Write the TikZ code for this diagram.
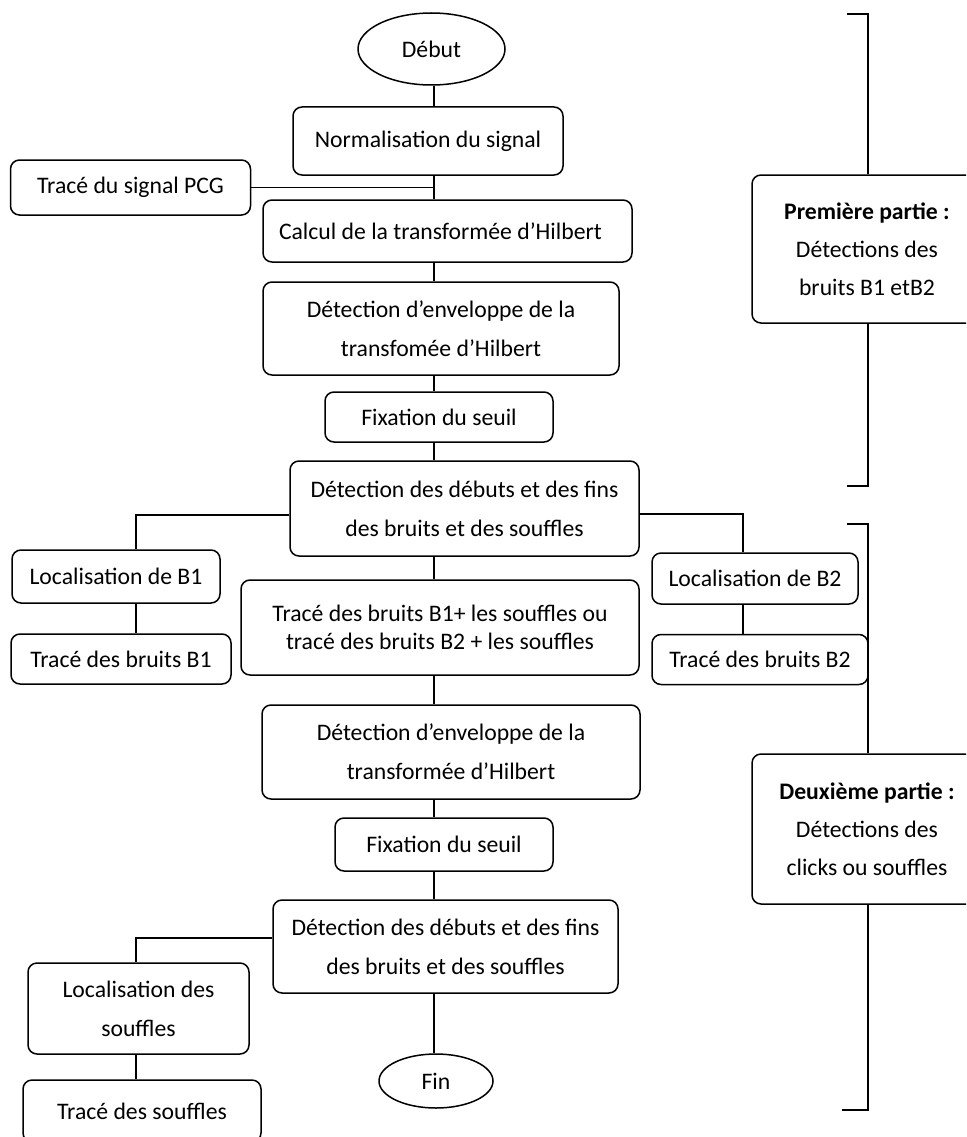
\documentclass[tikz,border=0pt]{standalone}
\usepackage{fontspec}
\setmainfont{Carlito}
\usetikzlibrary{shapes.geometric}
\begin{document}
\begin{tikzpicture}[x=1pt,y=-1pt,
  every node/.style={font=\fontsize{23.7}{39}\selectfont, text=black},
  box/.style={draw, line width=1.5pt, rounded corners=9pt, align=center, inner sep=0pt},
  oval/.style={draw, ellipse, line width=1.5pt, inner sep=0pt},
  conn/.style={line width=1.5pt}]
\useasboundingbox (0,0) rectangle (966,1137);
\clip (0,0) rectangle (966,1137);
\fill[white] (0,0) rectangle (966,1137);

% main column
\node[oval, minimum width=147, minimum height=72] (debut) at (431.5,49) {Début};
\node[box, minimum width=270, minimum height=68] (norm) at (428,141) {Normalisation du signal};
\node[box, minimum width=240, minimum height=55] (pcg) at (130.5,187.5) {Tracé du signal PCG};
\node[box, minimum width=369, minimum height=62, inner xsep=16] (calc) at (447.5,231) {\makebox[337pt][l]{Calcul de la transformée d’Hilbert}};
\node[box, minimum width=356, minimum height=93] (env1) at (441,328.5) {Détection d’enveloppe de la\\transfomée d’Hilbert};
\node[box, minimum width=228, minimum height=50] (fix1) at (439,417) {Fixation du seuil};
\node[box, minimum width=349, minimum height=95] (deb1) at (464.5,508.5) {Détection des débuts et des fins\\des bruits et des souffles};
\node[box, minimum width=208, minimum height=53] (locB1) at (116,576.5) {Localisation de B1};
\node[box, minimum width=220, minimum height=50] (trB1) at (121,659) {Tracé des bruits B1};
\node[box, minimum width=398, minimum height=95, font=\fontsize{23.7}{28}\selectfont] (trB12) at (440,627.5) {Tracé des bruits B1+ les souffles ou\\tracé des bruits B2 + les souffles};
\node[box, minimum width=206, minimum height=51] (locB2) at (755,578.5) {Localisation de B2};
\node[box, minimum width=216, minimum height=50] (trB2) at (760,659.5) {Tracé des bruits B2};
\node[box, minimum width=378, minimum height=94] (env2) at (451,752) {Détection d’enveloppe de la\\transformée d’Hilbert};
\node[box, minimum width=218, minimum height=53] (fix2) at (444,844.5) {Fixation du seuil};
\node[box, minimum width=345, minimum height=93] (deb2) at (445.5,946.5) {Détection des débuts et des fins\\des bruits et des souffles};
\node[box, minimum width=221, minimum height=91] (locS) at (138.5,1008.5) {Localisation des\\souffles};
\node[box, minimum width=238, minimum height=62] (trS) at (142,1111) {Tracé des souffles};
\node[oval, minimum width=114, minimum height=54] (fin) at (436,1081) {Fin};

% side parts
\node[box, minimum width=230, minimum height=148, font=\fontsize{23.7}{38}\selectfont] (p1) at (867,249) {\textbf{Première partie :}\\Détections des\\bruits B1 etB2};
\node[box, minimum width=230, minimum height=150, font=\fontsize{23.7}{38}\selectfont] (p2) at (867,829) {\textbf{Deuxième partie :}\\Détections des\\clicks ou souffles};

% connectors
\coordinate (tr) at (434,0);
\draw[conn] (debut.south -| tr) -- (norm.north -| tr);
\draw[conn] (norm.south -| tr) -- (calc.north -| tr);
\draw[conn] (pcg.east) -- (pcg.east -| tr);
\draw[conn] (calc.south -| tr) -- (env1.north -| tr);
\draw[conn] (env1.south -| tr) -- (fix1.north -| tr);
\draw[conn] (fix1.south -| tr) -- (deb1.north -| tr);
\draw[conn] (deb1.south -| tr) -- (trB12.north -| tr);
\draw[conn] (trB12.south -| tr) -- (env2.north -| tr);
\draw[conn] (env2.south -| tr) -- (fix2.north -| tr);
\draw[conn] (fix2.south -| tr) -- (deb2.north -| tr);
\draw[conn] (deb2.south -| tr) -- (fin.north -| tr);

\coordinate (bl1) at (136,515);
\coordinate (br1) at (743,514);
\coordinate (bl2) at (136,938);
\draw[conn] (deb1.west |- bl1) -- (bl1) -- (locB1.north -| bl1);
\draw[conn] (locB1.south -| bl1) -- (trB1.north -| bl1);
\draw[conn] (deb1.east |- br1) -- (br1) -- (locB2.north -| br1);
\draw[conn] (locB2.south -| br1) -- (trB2.north -| br1);
\draw[conn] (deb2.west |- bl2) -- (bl2) -- (locS.north -| bl2);
\draw[conn] (locS.south -| bl2) -- (trS.north -| bl2);

% brackets
\coordinate (b1ts) at (847,14);
\coordinate (b1t) at (868,14);
\coordinate (b1b) at (868,486);
\coordinate (b1bs) at (847,486);
\draw[conn] (b1ts) -- (b1t) -- (p1.north -| b1t);
\draw[conn] (p1.south -| b1t) -- (b1b) -- (b1bs);
\coordinate (b2ts) at (847,524);
\coordinate (b2t) at (868,524);
\coordinate (b2b) at (868,1110);
\coordinate (b2bs) at (842,1110);
\draw[conn] (b2ts) -- (b2t) -- (p2.north -| b2t);
\draw[conn] (p2.south -| b2t) -- (b2b) -- (b2bs);
\end{tikzpicture}
\end{document}
